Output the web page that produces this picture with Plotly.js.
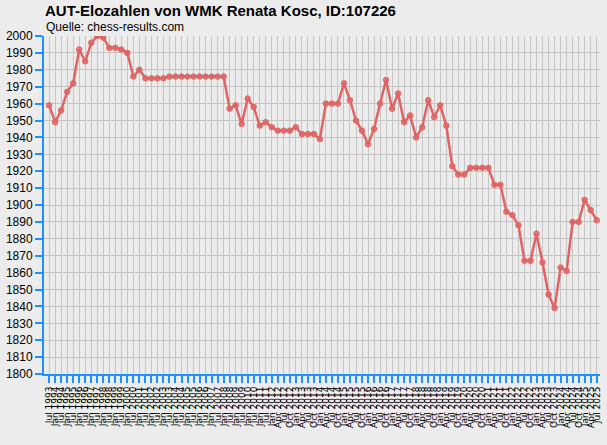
<!DOCTYPE html>
<html>
<head>
<meta charset="utf-8">
<script src="https://cdn.plot.ly/plotly-3.0.1.min.js"></script>
<style>
html,body{margin:0;padding:0;background:#ececec;}
#chart{width:607px;height:445px;}
</style>
</head>
<body>
<div id="chart"></div>
<script>
const titleText = "AUT-Elozahlen von WMK Renata Kosc, ID:107226";
const sourceText = "Quelle: chess-results.com";

const periods = [
 "Jul 1993","Jan 1994","Jul 1994","Jan 1995","Jul 1995","Jan 1996","Jul 1996","Jan 1997","Jul 1997","Jan 1998",
 "Jul 1998","Jan 1999","Jul 1999","Jan 2000","Jul 2000","Jan 2001","Jul 2001","Jan 2002","Jul 2002","Jan 2003",
 "Jul 2003","Jan 2004","Jul 2004","Jan 2005","Jul 2005","Jan 2006","Jul 2006","Jan 2007","Jul 2007","Jan 2008",
 "Jul 2008","Jan 2009","Jul 2009","Jan 2010","Jul 2010","Jan 2011","Jul 2011",
 "Jan 2012","Apr 2012","Jul 2012","Oct 2012","Jan 2013","Apr 2013","Jul 2013","Oct 2013",
 "Jan 2014","Apr 2014","Jul 2014","Oct 2014","Jan 2015","Apr 2015","Jul 2015","Oct 2015",
 "Jan 2016","Apr 2016","Jul 2016","Oct 2016","Jan 2017","Apr 2017","Jul 2017","Oct 2017",
 "Jan 2018","Apr 2018","Jul 2018","Oct 2018","Jan 2019","Apr 2019","Jul 2019","Oct 2019",
 "Jan 2020","Apr 2020","Jul 2020","Oct 2020","Jan 2021","Apr 2021","Jul 2021","Oct 2021",
 "Jan 2022","Apr 2022","Jul 2022","Oct 2022","Jan 2023","Apr 2023","Jul 2023","Oct 2023",
 "Jan 2024","Apr 2024","Jul 2024","Oct 2024","Jan 2025","Apr 2025","Jul 2025"
];

const elo = [
 1959,1949,1956,1967,1972,1992,1985,1996,2000,1999,
 1993,1993,1992,1990,1976,1980,1975,1975,1975,1975,
 1976,1976,1976,1976,1976,1976,1976,1976,1976,1976,
 1957,1959,1948,1963,1958,1947,1949,1946,1944,1944,
 1944,1946,1942,1942,1942,1939,1960,1960,1960,1972,
 1962,1950,1944,1936,1945,1960,1974,1957,1966,1949,
 1953,1940,1946,1962,1952,1959,1947,1923,1918,1918,
 1922,1922,1922,1922,1912,1912,1896,1894,1888,1867,
 1867,1883,1866,1847,1839,1863,1861,1890,1890,1903,
 1897,1891
];

const yTicks = [1800,1810,1820,1830,1840,1850,1860,1870,1880,1890,1900,
                1910,1920,1930,1940,1950,1960,1970,1980,1990,2000];

const blue = "#1e90ff";
const red = "#e06464";
const font = "Liberation Sans, Arial, sans-serif";

const trace = {
  x: periods,
  y: elo,
  type: "scatter",
  mode: "lines+markers",
  line: {color: red, width: 2.5},
  marker: {color: "rgba(224,100,100,0.85)", size: 5.5, line: {color: red, width: 1}},
  hoverinfo: "x+y"
};

const layout = {
  width: 607, height: 445,
  paper_bgcolor: "#ececec",
  plot_bgcolor: "#ececec",
  margin: {l: 44, r: 7, t: 36, b: 71},
  showlegend: false,
  font: {family: font, color: "#000"},
  title: {
    text: "<b>" + titleText + "</b>",
    font: {family: font, size: 15, color: "#000"},
    xref: "container", x: 45/607, xanchor: "left",
    yref: "container", y: 1 - 11/445, yanchor: "middle"
  },
  annotations: [{
    text: sourceText, showarrow: false,
    xref: "paper", yref: "paper",
    x: 0, xanchor: "left",
    y: 1 + 9/338, yanchor: "middle",
    font: {family: font, size: 12, color: "#000"}
  }],
  xaxis: {
    type: "category",
    range: [-0.85, periods.length - 0.45],
    tickmode: "linear", dtick: 1, tick0: 0,
    tickangle: -90,
    tickfont: {family: "DejaVu Sans, sans-serif", size: 9, color: "#000"},
    ticks: "outside", ticklen: 7, tickwidth: 2, tickcolor: blue,
    showline: true, linecolor: blue, linewidth: 2,
    showgrid: true, gridcolor: "#c6c6c6", gridwidth: 1,
    zeroline: false, fixedrange: true
  },
  yaxis: {
    range: [1800, 2000],
    tickmode: "array", tickvals: yTicks, ticktext: yTicks.map(String),
    tickfont: {family: font, size: 12, color: "#000"},
    ticks: "outside", ticklen: 7, tickwidth: 2, tickcolor: blue,
    showline: true, linecolor: blue, linewidth: 2,
    showgrid: true, gridcolor: "#c6c6c6", gridwidth: 1,
    zeroline: false, fixedrange: true
  }
};

Plotly.newPlot("chart", [trace], layout, {displayModeBar: false, staticPlot: true});
</script>
</body>
</html>
